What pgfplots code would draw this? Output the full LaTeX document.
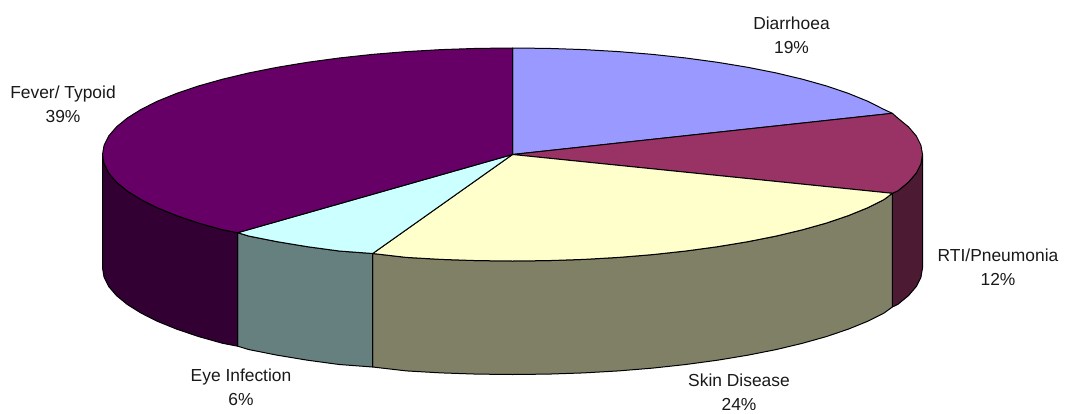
\documentclass[border=0pt]{standalone}
\usepackage{pgfplots}
\pgfplotsset{compat=1.18}
\usepackage{fontspec}
\setmainfont{Liberation Sans}
\definecolor{cDia}{HTML}{9999FF}
\definecolor{cRti}{HTML}{993366}
\definecolor{cSkin}{HTML}{FFFFCC}
\definecolor{cEye}{HTML}{CCFFFF}
\definecolor{cFev}{HTML}{660066}
\definecolor{sRti}{HTML}{4D1A33}
\definecolor{sSkin}{HTML}{808066}
\definecolor{sEye}{HTML}{668080}
\definecolor{sFev}{HTML}{330033}
\begin{document}
\begin{tikzpicture}
\begin{axis}[
  scale only axis, width=1065pt, height=413pt,
  xmin=0, xmax=1065, ymin=0, ymax=413, y dir=reverse,
  hide axis, clip=false,
  every axis plot/.append style={draw=black, line width=1pt, line join=round}
]
\path (axis cs:0,0) rectangle (axis cs:1065,413);
% side walls
\addplot[fill=sRti] coordinates {(892.3,193.3)(897.8,190.9)(908.5,182.1)(916.3,173)(920.9,163.8)(922.5,154.5)(922.5,268)(920.9,277.3)(916.3,286.5)(908.5,295.6)(897.8,304.4)(892.3,307)(892.3,193.3)};
\addplot[fill=sSkin] coordinates {(892.3,193.3)(884.1,199.5)(867.6,207.8)(848.4,215.6)(826.6,223)(802.4,229.8)(776,236.1)(747.7,241.7)(717.5,246.7)(685.8,251)(652.7,254.6)(618.6,257.4)(583.7,259.4)(548.3,260.6)(512.5,261)(476.7,260.6)(441.3,259.4)(406.4,257.4)(372.7,253.5)(372.7,367)(406.4,370.9)(441.3,372.9)(476.7,374.1)(512.5,374.5)(548.3,374.1)(583.7,372.9)(618.6,370.9)(652.7,368.1)(685.8,364.5)(717.5,360.2)(747.7,355.2)(776,349.6)(802.4,343.3)(826.6,336.5)(848.4,329.1)(867.6,321.3)(884.1,313)(892.3,307)(892.3,193.3)};
\addplot[fill=sEye] coordinates {(372.7,253.5)(339.2,251)(307.5,246.7)(277.3,241.7)(249,236.1)(237.7,232.7)(237.7,346.2)(249,349.6)(277.3,355.2)(307.5,360.2)(339.2,364.5)(372.7,367)(372.7,253.5)};
\addplot[fill=sFev] coordinates {(237.7,232.7)(222.6,229.8)(198.4,223)(176.6,215.6)(157.4,207.8)(140.9,199.5)(127.2,190.9)(116.5,182.1)(108.7,173)(104.1,163.8)(102.5,154.5)(102.5,268)(104.1,277.3)(108.7,286.5)(116.5,295.6)(127.2,304.4)(140.9,313)(157.4,321.3)(176.6,329.1)(198.4,336.5)(222.6,343.3)(237.7,346.2)(237.7,232.7)};
% top faces
\addplot[fill=cDia] coordinates {(512.5,154.5)(512.5,48)(548.3,48.4)(583.7,49.6)(618.6,51.6)(652.7,54.4)(685.8,58)(717.5,62.3)(747.7,67.3)(776,72.9)(802.4,79.2)(826.6,86)(848.4,93.4)(867.6,101.2)(884.1,109.5)(892.3,113.3)(512.5,154.5)};
\addplot[fill=cRti] coordinates {(512.5,154.5)(892.3,113.3)(897.8,118.1)(908.5,126.9)(916.3,136)(920.9,145.2)(922.5,154.5)(920.9,163.8)(916.3,173)(908.5,182.1)(897.8,190.9)(892.3,193.3)(512.5,154.5)};
\addplot[fill=cSkin] coordinates {(512.5,154.5)(892.3,193.3)(884.1,199.5)(867.6,207.8)(848.4,215.6)(826.6,223)(802.4,229.8)(776,236.1)(747.7,241.7)(717.5,246.7)(685.8,251)(652.7,254.6)(618.6,257.4)(583.7,259.4)(548.3,260.6)(512.5,261)(476.7,260.6)(441.3,259.4)(406.4,257.4)(372.7,253.5)(512.5,154.5)};
\addplot[fill=cEye] coordinates {(512.5,154.5)(372.7,253.5)(339.2,251)(307.5,246.7)(277.3,241.7)(249,236.1)(237.7,232.7)(512.5,154.5)};
\addplot[fill=cFev] coordinates {(512.5,154.5)(237.7,232.7)(222.6,229.8)(198.4,223)(176.6,215.6)(157.4,207.8)(140.9,199.5)(127.2,190.9)(116.5,182.1)(108.7,173)(104.1,163.8)(102.5,154.5)(104.1,145.2)(108.7,136)(116.5,126.9)(127.2,118.1)(140.9,109.5)(157.4,101.2)(176.6,93.4)(198.4,86)(222.6,79.2)(249,72.9)(277.3,67.3)(307.5,62.3)(339.2,58)(372.3,54.4)(406.4,51.6)(441.3,49.6)(476.7,48.4)(512.5,48)(512.5,154.5)};
% labels
\tikzset{lab/.style={align=center, inner sep=0pt, anchor=center, text=black!90, font=\fontsize{17.4}{24}\selectfont}}
\node[lab] at (axis cs:791.5,35) {Diarrhoea\\19\%};
\node[lab] at (axis cs:998,267.5) {RTI/Pneumonia\\12\%};
\node[lab] at (axis cs:739,392) {Skin Disease\\24\%};
\node[lab] at (axis cs:241,387) {Eye Infection\\6\%};
\node[lab] at (axis cs:63,104) {Fever/ Typoid\\39\%};
\end{axis}
\end{tikzpicture}
\end{document}
